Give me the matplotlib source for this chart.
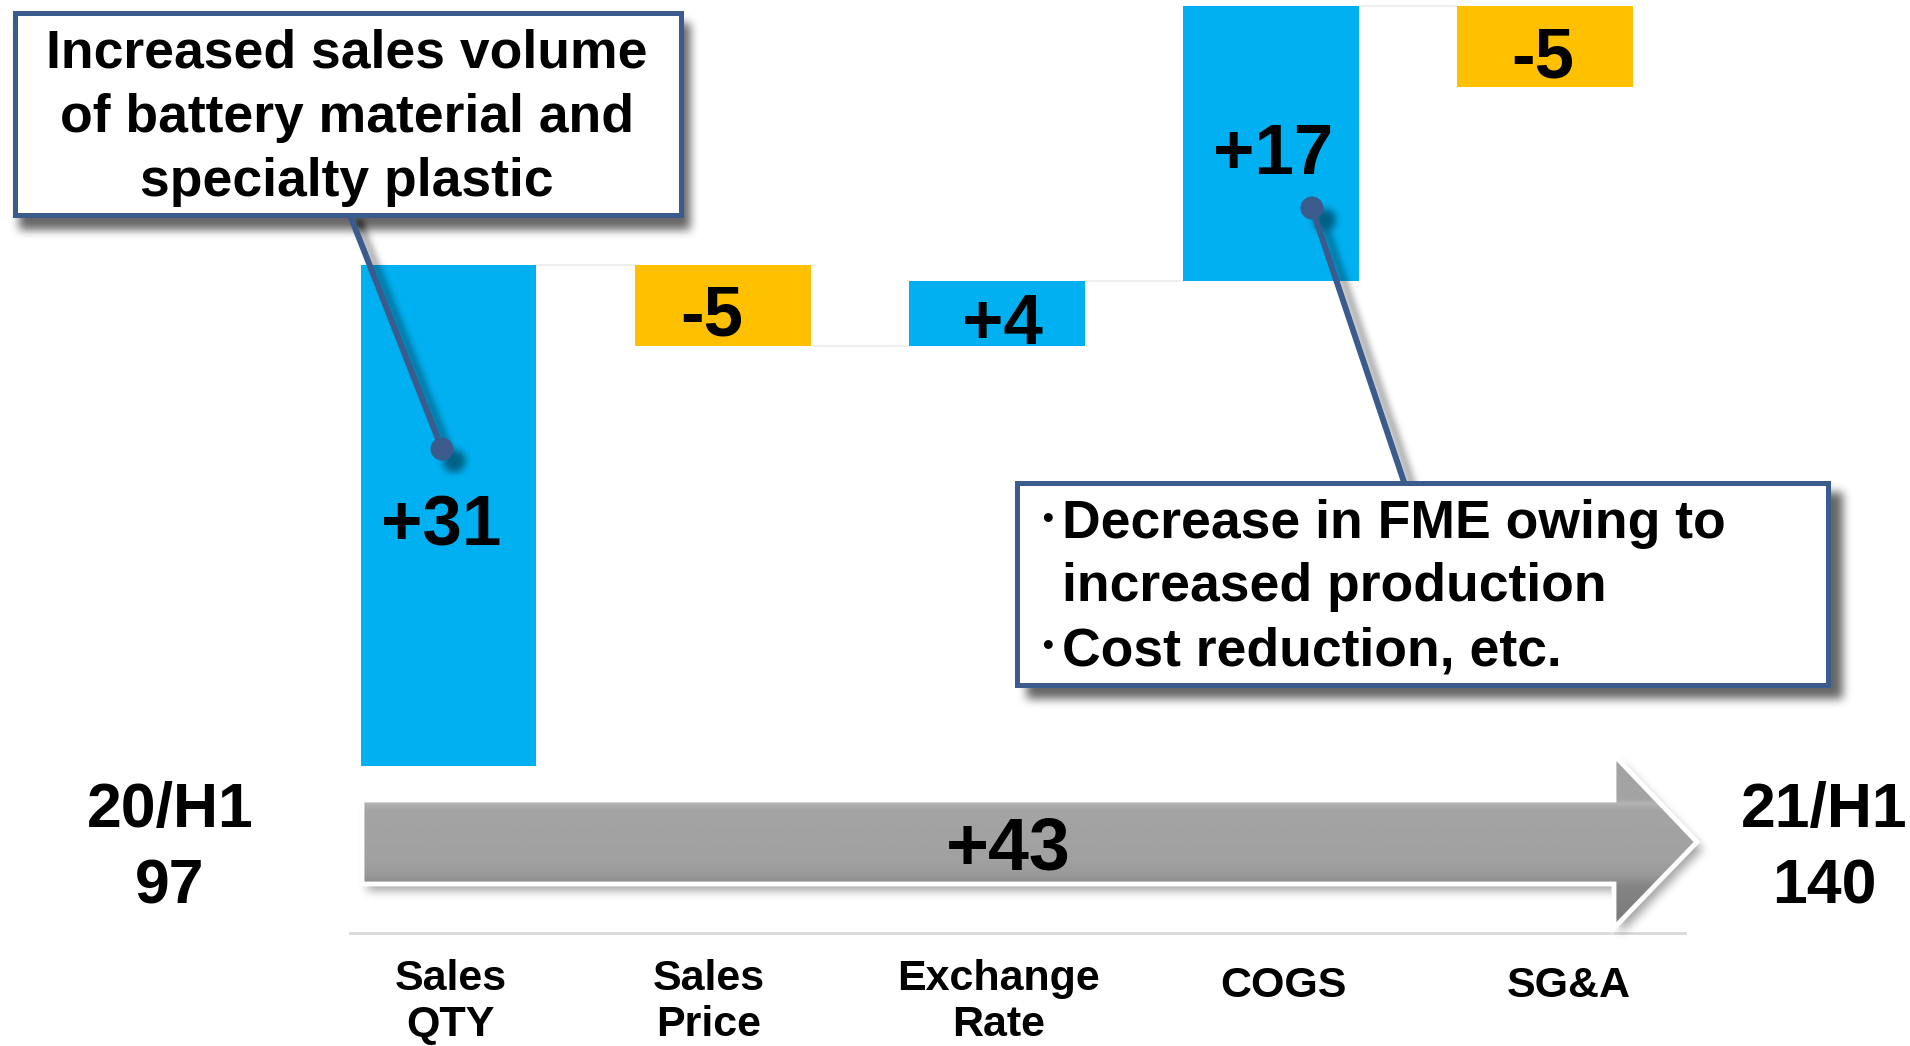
import numpy as np
import matplotlib
matplotlib.use("Agg")
import matplotlib.pyplot as plt
from matplotlib.patches import Rectangle, Polygon, Circle
from matplotlib.path import Path
import matplotlib.transforms as mtransforms

# ---------------- data ----------------
categories = ["Sales\nQTY", "Sales\nPrice", "Exchange\nRate", "COGS", "SG&A"]
deltas = [31, -5, 4, 17, -5]
start_value = 97
end_value = 140
start_label = "20/H1"
end_label = "21/H1"
note_left_lines = ["Increased sales volume", "of battery material and", "specialty plastic"]
note_right_lines = ["Decrease in FME owing to", "increased production", "Cost reduction, etc."]
note_right_bullets = [True, False, True]

POS_COLOR = "#00B0F0"
NEG_COLOR = "#FFC000"
EDGE_BLUE = "#3B5B8C"

plt.rcParams["font.family"] = ["Liberation Sans", "Noto Sans CJK JP", "DejaVu Sans"]

W, H = 1910, 1046
fig = plt.figure(figsize=(W / 100, H / 100), dpi=100)

# data axes (bars)
ax = fig.add_axes([0, 0, 1, 1])
ax.set_axis_off()
ax.set_xlim(-1.6363, 5.3320)
ax.set_ylim(79.64, 144.40)

# overlay axes in pixel units for decorations
ov = fig.add_axes([0, 0, 1, 1])
ov.set_axis_off()
ov.patch.set_alpha(0)
ax.set_zorder(1)
ov.set_zorder(2)

# ---------------- waterfall bars ----------------
idx = np.arange(len(deltas))
cum = start_value + np.concatenate([[0], np.cumsum(deltas)])
before = cum[:-1]
after = cum[1:]
bottoms = np.minimum(before, after)
heights = np.abs(deltas)
colors = [POS_COLOR if d > 0 else NEG_COLOR for d in deltas]
bw = 0.642
ax.bar(idx, heights, bottom=bottoms, width=bw, color=colors, edgecolor="none", zorder=2)

# faint connectors
for i in range(len(deltas) - 1):
    ax.plot([i + bw / 2, i + 1 - bw / 2], [after[i], after[i]], color="#F0F0F0", lw=1.5, zorder=1)

# value labels (small horizontal nudges in pixels, as in the original slide)
label_dx_px = [-7, -11, 6, 2, -2]
for i, d in enumerate(deltas):
    mid = (before[i] + after[i]) / 2
    ax.annotate(f"{d:+d}", (i, mid), xytext=(label_dx_px[i] * 0.72, -22), textcoords="offset points",
                ha="center", va="baseline", fontsize=51, fontweight="bold", color="black", zorder=5)

# category labels (x from data, y in pixels)
cat_dx_px = [2, -14, 2, 13, 24]
blend = mtransforms.blended_transform_factory(ax.transData, ov.transData)
for i, cat in enumerate(categories):
    lines = cat.split("\n")
    ys = [990, 1036] if len(lines) == 2 else [997]
    for ln, yb in zip(lines, ys):
        t = ax.text(i, yb, ln, transform=blend, ha="center", va="baseline",
                    fontsize=31, fontweight="bold", color="black", zorder=5)
        t.set_transform(blend + mtransforms.Affine2D().translate(cat_dx_px[i], 0))

# ---------------- overlay decorations ----------------
ov.set_xlim(0, W)
ov.set_ylim(H, 0)

# geometry (pixels)
box1 = (12, 10, 683, 217)
box2 = (1014, 480, 1830, 687)
line1 = ((350, 215), (442, 449))
line2 = ((1404, 482), (1312, 208))
dot_r = 11.5
arrow_verts = [(362, 800), (1614, 800), (1614, 755), (1697, 842),
               (1614, 928), (1614, 884), (362, 884)]

# shadows
yy, xx = np.mgrid[0:H, 0:W].astype(float) + 0.5


def box1d(a, r, axis):
    a = np.moveaxis(a, axis, -1)
    p = np.pad(a, [(0, 0), (r + 1, r)], mode="constant")
    c = np.cumsum(p, axis=-1)
    out = (c[:, 2 * r + 1:] - c[:, :-(2 * r + 1)]) / (2 * r + 1)
    return np.moveaxis(out, -1, axis)


def blur(a, r):
    for _ in range(3):
        a = box1d(a, r, 1)
        a = box1d(a, r, 0)
    return a


def rect_mask(b, dx, dy):
    m = np.zeros((H, W))
    x0, y0, x1, y1 = b
    m[int(y0 + dy):int(y1 + dy), int(x0 + dx):int(x1 + dx)] = 1
    return m


def seg_mask(p0, p1, w, dx, dy):
    x0, y0 = p0[0] + dx, p0[1] + dy
    x1, y1 = p1[0] + dx, p1[1] + dy
    vx, vy = x1 - x0, y1 - y0
    t = np.clip(((xx - x0) * vx + (yy - y0) * vy) / (vx * vx + vy * vy), 0, 1)
    d = np.hypot(xx - x0 - t * vx, yy - y0 - t * vy)
    return (d <= w / 2).astype(float)


def circ_mask(c, r, dx, dy):
    return (np.hypot(xx - c[0] - dx, yy - c[1] - dy) <= r).astype(float)


shadow = np.zeros((H, W))
shadow += 0.6 * blur(rect_mask(box1, 7, 13), 4)
shadow += 0.6 * blur(rect_mask(box2, 12, 12), 4)
lm = np.maximum(seg_mask(line1[0], line1[1], 6, 9, 8), circ_mask(line1[1], dot_r, 12, 12))
lm = np.maximum(lm, seg_mask(line2[0], line2[1], 6, 9, 8))
lm = np.maximum(lm, circ_mask(line2[1], dot_r, 12, 12))
shadow += 0.45 * blur(lm, 3)
apath = Path(arrow_verts + [arrow_verts[0]], closed=True)
am = apath.contains_points(np.c_[(xx - 5).ravel(), (yy - 7).ravel()]).reshape(H, W).astype(float)
shadow += 0.35 * blur(am, 4)
rgba = np.zeros((H, W, 4))
rgba[..., 3] = np.clip(shadow, 0, 1)
ov.imshow(rgba, extent=(0, W, H, 0), origin="upper", aspect="auto", interpolation="bilinear", zorder=1)

# baseline
ov.plot([350, 1685], [933, 933], color="#D9D9D9", lw=2, zorder=0.5)

# arrow with vertical gradient
gy = np.arange(755, 929)
gv = np.interp(gy, [755, 798, 803, 810, 860, 876, 886, 928],
               [0.64, 0.64, 0.70, 0.64, 0.63, 0.60, 0.52, 0.47])
grad = np.repeat(gv[:, None], 2, axis=1)
img = ov.imshow(grad, extent=(362, 1697, 928, 755), origin="upper", cmap="gray",
                vmin=0, vmax=1, aspect="auto", interpolation="bilinear", zorder=2)
apoly = Polygon(arrow_verts, closed=True, facecolor="none", edgecolor="white", lw=3.5,
                joinstyle="miter", zorder=3)
ov.add_patch(apoly)
img.set_clip_path(Polygon(arrow_verts, closed=True, transform=ov.transData))

# total label on arrow
ov.text(1008, 869, f"{end_value - start_value:+d}", ha="center", va="baseline",
        fontsize=53, fontweight="bold", color="black", zorder=6)

# start / end labels
for xc, lab, val in [(170, start_label, start_value), (1824, end_label, end_value)]:
    ov.text(xc, 827, lab, ha="center", va="baseline", fontsize=45, fontweight="bold", zorder=6)
    ov.text(xc, 903, str(val), ha="center", va="baseline", fontsize=45, fontweight="bold", zorder=6)

# callout lines and dots
for (p0, p1) in [line1, line2]:
    ov.plot([p0[0], p1[0]], [p0[1], p1[1]], color=EDGE_BLUE, lw=4.3, solid_capstyle="butt", zorder=3)
    ov.add_patch(Circle(p1, dot_r, facecolor=EDGE_BLUE, edgecolor="none", zorder=4))

# boxes
for b in [box1, box2]:
    x0, y0, x1, y1 = b
    ov.add_patch(Rectangle((x0 + 2.5, y0 + 2.5), x1 - x0 - 5, y1 - y0 - 5, facecolor="white",
                           edgecolor=EDGE_BLUE, lw=3.6, zorder=4))

for ln, yb in zip(note_left_lines, [68, 132, 196]):
    ov.text(347, yb, ln, ha="center", va="baseline", fontsize=38.5, fontweight="bold", zorder=6)

for ln, yb, bul in zip(note_right_lines, [538, 601, 665], note_right_bullets):
    ov.text(1062, yb, ln, ha="left", va="baseline", fontsize=38.5, fontweight="bold", zorder=6)
    if bul:
        ov.text(1061, yb, "･", ha="right", va="baseline", fontsize=38.5,
                family=["Noto Sans CJK JP"], zorder=6)

fig.savefig("out.png", dpi=100)
